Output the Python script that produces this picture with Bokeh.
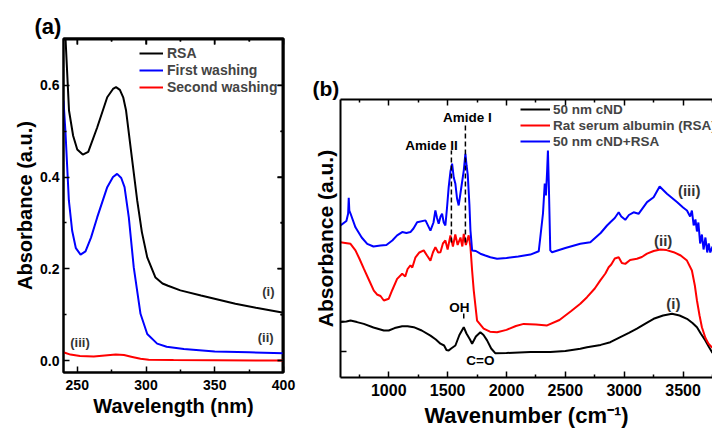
from bokeh.plotting import figure
from bokeh.models import (LinearAxis, FixedTicker, Range1d, Legend,
                          LegendItem, ColumnDataSource, PrintfTickFormatter)
from bokeh.layouts import row, column
from bokeh.core.properties import value
from bokeh.embed import file_html
from bokeh.resources import INLINE

FONT = "Liberation Sans"

# ---------------- Panel (a): UV-Vis ----------------
uv_wl_rsa = [240, 241.5, 244, 247, 250, 254, 258, 264.5, 271.8, 276, 278.2, 281, 283.5, 285.5,
             289, 293.6, 297, 300.9, 306.9, 312, 316, 325, 340, 365, 380, 400]
uv_rsa = [0.78, 0.70, 0.545, 0.49, 0.46, 0.449, 0.455, 0.508, 0.574, 0.592, 0.596, 0.59, 0.573, 0.545,
          0.46, 0.349, 0.28, 0.225, 0.181, 0.168, 0.163, 0.153, 0.142, 0.124, 0.115, 0.104]

uv_wl_first = [240, 241.5, 243.9, 246.3, 249, 252.4, 256, 260, 264.5, 271.8, 276, 279, 282, 284.4,
               287.5, 291.1, 296, 300.9, 308.1, 315, 327.5, 350, 375, 400]
uv_first = [0.567, 0.494, 0.349, 0.283, 0.245, 0.231, 0.238, 0.268, 0.312, 0.378, 0.400, 0.407, 0.398,
            0.378, 0.312, 0.203, 0.102, 0.058, 0.037, 0.030, 0.025, 0.020, 0.018, 0.016]

uv_wl_second = [240, 245, 252, 262, 270, 278, 284, 290, 296, 302, 320, 400]
uv_second = [0.018, 0.013, 0.010, 0.009, 0.011, 0.013, 0.012, 0.008, 0.004, 0.002, 0.001, 0.0]

uv_legend = ["RSA", "First washing", "Second washing"]
uv_xticks = [250, 300, 350, 400]
uv_xminor = [275, 325, 375]
uv_yticks = [0.0, 0.2, 0.4, 0.6]
uv_yminor = [0.1, 0.3, 0.5]
uv_tags = ["(i)", "(ii)", "(iii)"]
uv_tag_x = [389, 387, 252]
uv_tag_y = [0.15, 0.05, 0.039]

# ---------------- Panel (b): FTIR ----------------
ir_wn_cnd = [590, 640, 675, 730, 788, 870, 958, 1000, 1050, 1114, 1160, 1212, 1280, 1354, 1400, 1439,
             1470, 1490, 1509, 1530, 1566, 1600, 1637, 1660, 1690, 1708, 1740, 1778, 1805, 1835, 1870,
             1906, 2000, 2203, 2373, 2500, 2627, 2684, 2800, 2882, 2967, 3040, 3108, 3180, 3250, 3330,
             3406, 3470, 3533, 3580, 3618, 3650, 3689, 3720, 3750]
ir_cnd = [0.98, 1.0, 1.03, 0.98, 0.92, 0.8, 0.7, 0.7, 0.78, 0.84, 0.84, 0.81, 0.7, 0.53, 0.4, 0.26,
          0.2, 0.05, 0.03, 0.1, 0.2, 0.55, 0.81, 0.6, 0.4, 0.26, 0.5, 0.64, 0.55, 0.37, 0.1,
          -0.06, -0.05, -0.02, -0.02, 0.02, 0.09, 0.14, 0.22, 0.31, 0.48, 0.62, 0.76, 0.93, 1.09, 1.2,
          1.26, 1.2, 1.09, 0.95, 0.81, 0.6, 0.37, 0.15, -0.05]

ir_wn_rsa = [590, 630, 675, 717, 750, 788, 830, 873, 900, 930, 958, 1000, 1030, 1071, 1114, 1140, 1160,
             1184, 1200, 1227, 1260, 1297, 1325, 1354, 1375, 1396, 1420, 1439, 1460, 1481, 1500, 1524,
             1545, 1565, 1585, 1609, 1625, 1637, 1655, 1679, 1694, 1708, 1722, 1750, 1806, 1860, 1920,
             2000, 2080, 2146, 2250, 2345, 2450, 2550, 2627, 2684, 2750, 2797, 2840, 2868, 2890, 2920,
             2953, 2980, 3009, 3050, 3108, 3150, 3194, 3250, 3307, 3360, 3420, 3480, 3533, 3575, 3600,
             3618, 3640, 3660, 3690, 3716, 3750]
ir_rsa = [3.64, 3.62, 3.59, 3.37, 3.1, 2.76, 2.4, 2.03, 1.9, 1.85, 1.7, 1.76, 2.05, 2.42, 2.59, 2.5, 2.75,
          2.87, 2.8, 3.14, 3.3, 3.37, 3.2, 3.03, 3.3, 3.48, 3.3, 3.31, 3.6, 3.7, 3.4, 3.87,
          3.5, 3.9, 3.55, 3.8, 3.5, 3.92, 3.55, 3.87, 3.48, 2.7, 2.03, 1.03, 0.76, 0.66, 0.64,
          0.72, 0.85, 0.92, 0.9, 0.87, 1.05, 1.35, 1.59, 1.81, 2.1, 2.37, 2.6, 2.81, 2.9, 3.1,
          3.14, 2.95, 2.92, 3.05, 3.09, 3.15, 3.26, 3.35, 3.4, 3.38, 3.31, 3.2, 3.03, 2.7, 2.2,
          1.7, 1.2, 0.81, 0.45, 0.26, 0.12]

ir_wn_mix = [590, 640, 655, 660, 665, 675, 717, 770, 817, 870, 930, 980, 1030, 1071, 1114, 1150, 1184,
             1210, 1241, 1312, 1354, 1380, 1396, 1410, 1424, 1440, 1453, 1467, 1481, 1495, 1509, 1524,
             1538, 1552, 1566, 1580, 1594, 1610, 1637, 1651, 1661, 1671, 1685, 1694, 1708, 1740, 1778,
             1820, 1863, 1920, 2000, 2100, 2203, 2274, 2310, 2325, 2335, 2345, 2352, 2360, 2372, 2387,
             2500, 2627, 2712, 2800, 2854, 2882, 2920, 2953, 2975, 3009, 3040, 3080, 3122, 3194, 3250,
             3301, 3363, 3448, 3500, 3533, 3560, 3575, 3590, 3605, 3618, 3630, 3645, 3660, 3674, 3690,
             3705, 3718, 3731, 3750]
ir_mix = [4.2, 4.35, 4.6, 5.12, 4.7, 4.6, 4.14, 3.8, 3.59, 3.5, 3.53, 3.55, 3.7, 3.87, 3.98, 3.95, 3.98,
          4.1, 4.31, 4.37, 4.03, 4.3, 4.7, 4.45, 4.26, 4.5, 4.59, 4.3, 4.2, 4.8, 5.48, 6.0,
          6.26, 5.8, 5.59, 5.1, 4.87, 5.3, 6.03, 6.59, 6.2, 5.89, 4.9, 4.03, 3.37, 3.35, 3.26,
          3.2, 3.14, 3.09, 3.12, 3.17, 3.23, 3.34, 4.6, 5.6, 5.2, 6.0, 6.7, 5.5, 3.37, 3.31,
          3.45, 3.59, 3.64, 3.95, 4.2, 4.31, 4.45, 4.64, 4.5, 4.39, 4.55, 4.64, 4.59, 4.98, 5.14,
          5.5, 5.26, 4.98, 4.8, 4.7, 4.5, 4.7, 4.2, 4.4, 4.0, 4.3, 3.6, 3.9, 3.4, 3.8,
          3.3, 3.6, 3.3, 3.5]

ir_legend = ["50 nm cND", "Rat serum albumin (RSA)", "50 nm cND+RSA"]
ir_xticks = [1000, 1500, 2000, 2500, 3000, 3500]
ir_xminor = [750, 1250, 1750, 2250, 2750, 3250, 3750]
ir_yticks = [0]
ir_yminor = [1]
amide_names = ["Amide II", "Amide I"]
amide_x = [1532, 1651]
amide_top = [6.7, 7.6]
amide_bottom = [3.63, 3.63]
amide_label_x = [1362, 1667]
amide_label_y = [6.87, 7.8]
oh_x = [1637]
oh_top = [1.27]
oh_bottom = [1.1]
group_names = ["OH", "C=O"]
group_x = [1600, 1778]
group_y = [1.47, -0.3]
ir_tags = ["(i)", "(ii)", "(iii)"]
ir_tag_x = [3417, 3331, 3552]
ir_tag_y = [1.6, 3.7, 5.37]

BLACK, BLUE, RED = "#000000", "#0000FF", "#FF0000"


def style_axis(ax, tick_size, label_size, show_ticks_labels=True, label_standoff=4, axis_standoff=2):
    ax.axis_line_width = 2
    ax.axis_line_color = "black"
    ax.major_tick_in = 6
    ax.major_tick_out = 0
    ax.minor_tick_in = 3
    ax.minor_tick_out = 0
    ax.major_tick_line_width = 1.5
    ax.minor_tick_line_width = 1.5
    ax.major_tick_line_color = "black"
    ax.minor_tick_line_color = "black"
    ax.major_label_text_font = FONT
    ax.major_label_text_font_style = "bold"
    if show_ticks_labels:
        ax.major_label_text_color = "black"
        ax.major_label_text_font_size = f"{tick_size}px"
        ax.major_label_standoff = label_standoff
    else:
        ax.major_label_text_font_size = "1px"
        ax.major_label_text_alpha = 0
        ax.major_label_standoff = 0
    ax.axis_label_text_font = FONT
    ax.axis_label_text_font_style = "bold"
    ax.axis_label_text_font_size = f"{label_size}px"
    ax.axis_label_text_color = "black"
    ax.axis_label_standoff = axis_standoff


def style_title(p, text, size, offset):
    p.title.text = text
    p.title.align = "left"
    p.title.offset = offset
    p.title.standoff = 0
    p.title.text_font = FONT
    p.title.text_font_style = "bold"
    p.title.text_font_size = f"{size}px"
    p.title.text_color = "black"


# ---------- figure (a) ----------
XA0, XA1, YA0, YA1 = 240, 400, -0.026, 0.702
pa = figure(width=300, height=433, output_backend="svg", toolbar_location=None,
            x_range=Range1d(XA0, XA1), y_range=Range1d(YA0, YA1),
            min_border_left=63, min_border_right=17, min_border_top=38, min_border_bottom=61)
pa.outline_line_color = "black"
pa.outline_line_width = 2
pa.grid.visible = False
style_title(pa, "(a)", 22, -29)

pa.xaxis.ticker = FixedTicker(ticks=uv_xticks, minor_ticks=uv_xminor)
pa.yaxis.ticker = FixedTicker(ticks=uv_yticks, minor_ticks=uv_yminor)
pa.xaxis.axis_label = "Wavelength (nm)"
pa.yaxis.axis_label = "Absorbance (a.u.)"
pa.yaxis.formatter = PrintfTickFormatter(format="%.1f")
style_axis(pa.xaxis[0], 14, 20, True, 7, 2)
style_axis(pa.yaxis[0], 14, 20, True, 4, 1)

top_a = LinearAxis(ticker=FixedTicker(ticks=uv_xticks, minor_ticks=uv_xminor))
right_a = LinearAxis(ticker=FixedTicker(ticks=uv_yticks, minor_ticks=uv_yminor))
style_axis(top_a, 14, 20, False)
style_axis(right_a, 14, 20, False)
pa.add_layout(top_a, "above")
pa.add_layout(right_a, "right")

# top and right frame edges with inner ticks (placed from the range ends and tick lists)
px_x = (XA1 - XA0) / 220.0   # data units per pixel, x
px_y = (YA1 - YA0) / 334.0   # data units per pixel, y
pa.line([XA0, XA1], [YA1, YA1], line_color="black", line_width=4)
pa.line([XA1, XA1], [YA0, YA1], line_color="black", line_width=4)
pa.segment(x0=uv_xticks, y0=[YA1] * len(uv_xticks), x1=uv_xticks,
           y1=[YA1 - 6 * px_y] * len(uv_xticks), line_color="black", line_width=1.5)
pa.segment(x0=uv_xminor, y0=[YA1] * len(uv_xminor), x1=uv_xminor,
           y1=[YA1 - 3 * px_y] * len(uv_xminor), line_color="black", line_width=1.5)
pa.segment(x0=[XA1] * len(uv_yticks), y0=uv_yticks, x1=[XA1 - 6 * px_x] * len(uv_yticks),
           y1=uv_yticks, line_color="black", line_width=1.5)
pa.segment(x0=[XA1] * len(uv_yminor), y0=uv_yminor, x1=[XA1 - 3 * px_x] * len(uv_yminor),
           y1=uv_yminor, line_color="black", line_width=1.5)

r1 = pa.line(uv_wl_rsa, uv_rsa, line_color=BLACK, line_width=2)
r2 = pa.line(uv_wl_first, uv_first, line_color=BLUE, line_width=2)
r3 = pa.line(uv_wl_second, uv_second, line_color=RED, line_width=2)

leg_a = Legend(items=[LegendItem(label=uv_legend[0], renderers=[r1]),
                      LegendItem(label=uv_legend[1], renderers=[r2]),
                      LegendItem(label=uv_legend[2], renderers=[r3])],
               location=(76, 277), margin=0, padding=0, spacing=1,
               label_height=16, glyph_height=16, glyph_width=24, label_standoff=4,
               label_text_font=FONT, label_text_font_style="bold", label_text_font_size="14px",
               border_line_color=None, background_fill_alpha=0)
pa.add_layout(leg_a)

src_ta = ColumnDataSource(dict(x=uv_tag_x, y=uv_tag_y, t=uv_tags))
pa.text(x="x", y="y", text="t", source=src_ta, text_align="center", text_baseline="middle",
        text_font=value(FONT), text_font_style="bold", text_font_size="13px", text_color="#333333")

# ---------- figure (b) ----------
pb = figure(width=412, height=433, output_backend="svg", toolbar_location=None,
            x_range=Range1d(590, 3750), y_range=Range1d(-0.867, 8.4),
            min_border_left=40, min_border_right=0, min_border_top=99, min_border_bottom=56)
pb.outline_line_color = None
pb.grid.visible = False
style_title(pb, "(b)", 21, -28)

pb.xaxis.ticker = FixedTicker(ticks=ir_xticks, minor_ticks=ir_xminor)
pb.yaxis.ticker = FixedTicker(ticks=ir_yticks, minor_ticks=ir_yminor)
pb.xaxis.axis_label = "Wavenumber (cm\u207b\u00b9)"
pb.yaxis.axis_label = "Absorbance (a.u.)"
style_axis(pb.xaxis[0], 16, 22, True, 6, 4)
style_axis(pb.yaxis[0], 16, 21, False, 0, 4)
top_b = LinearAxis(ticker=FixedTicker(ticks=ir_xticks, minor_ticks=ir_xminor))
style_axis(top_b, 16, 22, False)
pb.add_layout(top_b, "above")

b1 = pb.line(ir_wn_cnd, ir_cnd, line_color=BLACK, line_width=2)
b2 = pb.line(ir_wn_rsa, ir_rsa, line_color=RED, line_width=2)
b3 = pb.line(ir_wn_mix, ir_mix, line_color=BLUE, line_width=2)

pb.segment(x0=amide_x, y0=amide_bottom, x1=amide_x, y1=amide_top, line_color="black",
           line_width=1.5, line_dash="5 3")
pb.segment(x0=oh_x, y0=oh_bottom, x1=oh_x, y1=oh_top, line_color="black", line_width=1.5)

src_am = ColumnDataSource(dict(x=amide_label_x, y=amide_label_y, t=amide_names))
pb.text(x="x", y="y", text="t", source=src_am, text_align="center", text_baseline="middle",
        text_font=value(FONT), text_font_style="bold", text_font_size="13.5px", text_color="black")
src_gr = ColumnDataSource(dict(x=group_x, y=group_y, t=group_names))
pb.text(x="x", y="y", text="t", source=src_gr, text_align="center", text_baseline="middle",
        text_font=value(FONT), text_font_style="bold", text_font_size="13.5px", text_color="black")
src_tb = ColumnDataSource(dict(x=ir_tag_x, y=ir_tag_y, t=ir_tags))
pb.text(x="x", y="y", text="t", source=src_tb, text_align="center", text_baseline="middle",
        text_font=value(FONT), text_font_style="bold", text_font_size="15px", text_color="#333333")

leg_b = Legend(items=[LegendItem(label=ir_legend[0], renderers=[b1]),
                      LegendItem(label=ir_legend[1], renderers=[b2]),
                      LegendItem(label=ir_legend[2], renderers=[b3])],
               location=(180, 228), margin=0, padding=0, spacing=0,
               label_height=16, glyph_height=16, glyph_width=30, label_standoff=3,
               label_text_font=FONT, label_text_font_style="bold", label_text_font_size="13.5px",
               border_line_color=None, background_fill_alpha=0)
pb.add_layout(leg_b)

layout = row(column(pa), column(pb), spacing=0)
open("out.html", "w").write(file_html(layout, INLINE))
